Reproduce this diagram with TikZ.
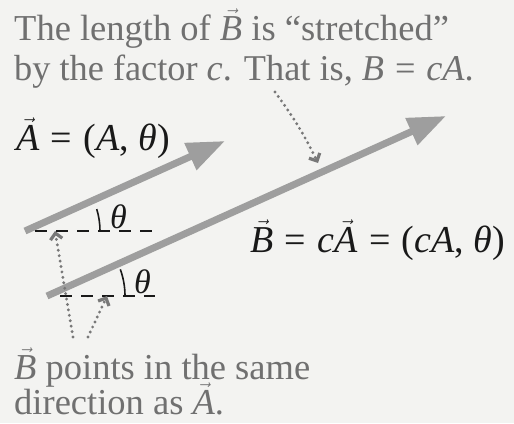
\documentclass[tikz,border=0pt]{standalone}
\usepackage{fontspec}
\setmainfont{Liberation Serif}
\usetikzlibrary{arrows.meta}
\definecolor{bg}{RGB}{243,243,241}
\definecolor{note}{RGB}{112,112,112}
\definecolor{vecg}{RGB}{158,158,158}
\definecolor{ink}{RGB}{25,25,25}
\definecolor{dotg}{RGB}{120,120,120}
\newcommand{\vv}[1]{\ensuremath{\vec{\mbox{\itshape #1}}}}
\newcommand{\iv}[1]{\textit{#1}}
\newcommand{\eqs}{\hspace{0.3em}=\hspace{0.3em}}
\begin{document}
\begin{tikzpicture}[x=1pt,y=-1pt,
  txt/.style={anchor=base west, inner sep=0pt, font=\fontsize{38}{40}\selectfont},
  notetxt/.style={txt, text=note},
  mathtxt/.style={txt, text=ink},
  vecarrow/.style={draw=vecg, line width=7pt, -{Triangle[length=38pt,width=28pt]}},
  refline/.style={draw=ink, line width=1.6pt, dash pattern=on 12pt off 9pt},
  anglemark/.style={draw=ink, line width=1.6pt},
  pointer/.style={draw=dotg, line width=3.2pt, dash pattern=on 0pt off 5.5pt, line cap=round, -{Straight Barb[length=6pt,width=12pt]}}
]
\useasboundingbox (0,0) rectangle (514,423);
\fill[bg] (0,0) rectangle (514,423);

% texts
\node[notetxt, font=\fontsize{36.5}{40}\selectfont] (t1) at (14,40) {The length of \vv{B} is “stretched”};
\node[notetxt, font=\fontsize{36.3}{40}\selectfont] (t2) at (14,80) {by the factor \iv{c}. That is, \iv{B}\eqs\iv{cA}.};
\node[mathtxt] (la) at (16,150) {\vv{A}\eqs(\iv{A}, \iv{θ})};
\node[mathtxt] (lb) at (250,252) {\vv{B}\eqs\iv{c}\vv{A}\eqs(\iv{cA}, \iv{θ})};
\node[notetxt, font=\fontsize{36.5}{40}\selectfont] (b1) at (14,379) {\vv{B} points in the same};
\node[notetxt, font=\fontsize{36.5}{40}\selectfont] (b2) at (14,414) {direction as \vv{A}.};

% vectors
\coordinate (A0) at (25,231);
\coordinate (A1) at (225,141);
\coordinate (B0) at (47,296);
\coordinate (B1) at (446,116);
\draw[vecarrow] (A0) -- (A1);
\draw[vecarrow] (B0) -- (B1);

% reference lines and angle marks
\draw[refline] (A0) ++(10,0) -- ++(120,0);
\draw[anglemark] (A0) ++(75,0) arc[start angle=0,end angle=-17,radius=75];
\node[txt, text=ink, font=\fontsize{34}{40}\selectfont\itshape] (thA) at (110,228) {θ};
\draw[refline] (B0) ++(13,0) -- ++(95,0);
\draw[anglemark] (B0) ++(78,0) arc[start angle=0,end angle=-20,radius=78];
\node[txt, text=ink, font=\fontsize{34}{40}\selectfont\itshape] (thB) at (134,293) {θ};

% pointers
\coordinate (p1s) at (73,337);
\coordinate (p1e) at (55,231);
\coordinate (p2s) at (88,337);
\coordinate (p2e) at (107,296);
\coordinate (p3s) at (275,92);
\coordinate (p3e) at (318,163);
\draw[pointer] (p1s) -- (p1e);
\draw[pointer] (p2s) -- (p2e);
\draw[pointer] (p3s) to[bend left=5] (p3e);
\end{tikzpicture}
\end{document}
